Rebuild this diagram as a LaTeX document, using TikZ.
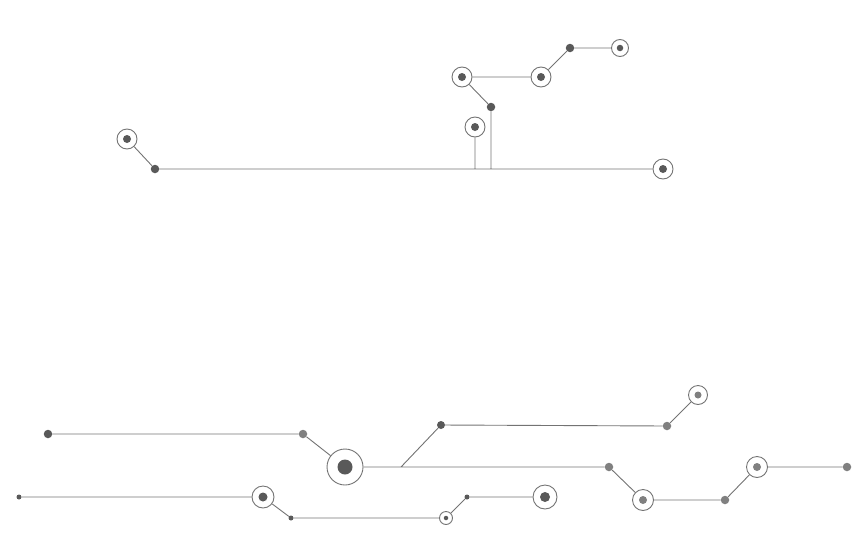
\documentclass[tikz,border=0pt]{standalone}
\begin{document}
\begin{tikzpicture}[x=1pt,y=-1pt,
  ln/.style={draw=gray!90!black,line width=0.9pt},
  dot/.style={circle,fill=#1,inner sep=0pt,minimum size=8.5pt},
  sdot/.style={circle,fill=#1,inner sep=0pt,minimum size=5pt},
  ring/.style={circle,draw=gray!90!black,line width=0.9pt,inner sep=0pt,minimum size=#1},
  inner/.style={circle,fill=black!65,inner sep=0pt,minimum size=#1}]
\useasboundingbox (0,0) rectangle (867,544);
% top
\node[ring=20pt] (r1) at (127,139) {}; \node[inner=8pt] at (r1) {};
\node[dot=black!65] (d1) at (155,169) {};
\node[ring=20pt] (r2) at (663,169) {}; \node[inner=8pt] at (r2) {};
\node[dot=black!65] (d2) at (491,107) {};
\coordinate (b2) at (491,169);
\node[ring=20pt] (r3) at (462,77) {}; \node[inner=8pt] at (r3) {};
\node[ring=20pt] (r4) at (541,77) {}; \node[inner=8pt] at (r4) {};
\node[dot=black!65] (d3) at (570,48) {};
\node[ring=17pt] (r5) at (620,48) {}; \node[inner=6.5pt] at (r5) {};
\node[ring=20pt] (r6) at (475,127) {}; \node[inner=8pt] at (r6) {};
\coordinate (b6) at (475,169);
\draw[ln] (r1)--(d1) (d1)--(r2) (d2)--(b2) (d2)--(r3) (r3)--(r4) (r4)--(d3) (d3)--(r5) (r6)--(b6);
% bottom
\node[dot=black!65] (e1) at (48,434) {};
\node[dot=gray] (e2) at (303,434) {};
\node[ring=36pt] (R) at (345,467) {}; \node[inner=15pt] at (R) {};
\node[dot=gray] (e3) at (609,467) {};
\coordinate (c1) at (401,467);
\node[dot=black!65,minimum size=8pt] (e4) at (441,425) {};
\node[dot=gray] (e5) at (667,426) {};
\node[ring=19pt] (r7) at (698,395) {}; \node[inner=7pt,fill=gray] at (r7) {};
\node[ring=21pt] (r8) at (643,500) {}; \node[inner=8pt,fill=gray] at (r8) {};
\node[dot=gray] (e6) at (725,500) {};
\node[ring=21pt] (r9) at (757,467) {}; \node[inner=8pt,fill=gray] at (r9) {};
\node[dot=gray] (e7) at (847,467) {};
\node[sdot=black!65] (f1) at (19,497) {};
\node[ring=22pt] (r10) at (263,497) {}; \node[inner=9pt] at (r10) {};
\node[sdot=black!65] (f2) at (291,518) {};
\node[ring=13pt] (r11) at (446,518) {}; \node[inner=4.5pt] at (r11) {};
\node[sdot=black!65] (f3) at (467,497) {};
\node[ring=24pt] (r12) at (545,497) {}; \node[inner=10pt] at (r12) {};
\draw[ln] (e1)--(e2) (e2)--(R) (R)--(e3) (c1)--(e4) (e4)--(e5) (e5)--(r7)
  (e3)--(r8) (r8)--(e6) (e6)--(r9) (r9)--(e7)
  (f1)--(r10) (r10)--(f2) (f2)--(r11) (r11)--(f3) (f3)--(r12);
\end{tikzpicture}
\end{document}
